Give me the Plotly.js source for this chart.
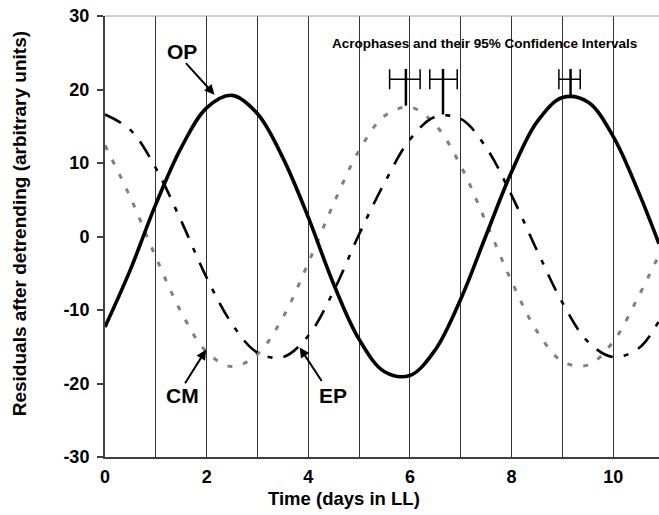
<!DOCTYPE html>
<html>
<head>
<meta charset="utf-8">
<script src="https://cdn.plot.ly/plotly-3.0.1.min.js"></script>
<style>html,body{margin:0;padding:0;background:#fff;}#chart{width:659px;height:515px;}</style>
</head>
<body>
<div id="chart"></div>
<script>
// Time (days in LL)
var days = [0,0.5,1,1.5,2,2.5,3,3.5,4,4.5,5,5.5,6,6.5,7,7.5,8,8.5,9,9.5,10,10.5,10.9];
// Residuals after detrending (arbitrary units)
var op = [-12.3,-4.5,4.4,12.1,17.5,19.2,16.7,10.7,2.6,-6.5,-14.0,-18.4,-18.9,-15.4,-8.5,0.2,8.8,15.6,18.9,18.3,13.6,6.0,-1.0];
var cm = [16.6,14.5,9.3,2.1,-5.6,-11.9,-15.8,-16.4,-13.5,-7.4,0.3,7.3,13.2,16.3,16.0,12.1,5.6,-1.9,-9.0,-14.3,-16.4,-15.2,-11.5];
var ep = [12.4,5.3,-2.8,-10.3,-15.7,-17.7,-16.0,-11.0,-3.6,4.5,11.7,16.4,17.6,15.2,9.6,1.9,-6.1,-12.9,-17.0,-17.5,-14.3,-8.1,-2.5];

// axis ticks
var xTickVals = [0,1,2,3,4,5,6,7,8,9,10];
var xTickText = ['0','','2','','4','','6','','8','','10'];
var yTickVals = [-30,-20,-10,0,10,20,30];
var yTickText = ['-30','-20','-10','0','10','20','30'];

// Acrophases and their 95% confidence intervals
var acroNames = ["EP", "CM", "OP"];
var acroTime = [5.92, 6.65, 9.16];
var acroLow = [5.60, 6.39, 8.93];
var acroHigh = [6.20, 6.93, 9.35];
var acroPeak = [17.8, 16.6, 19.0];
var ciLevel = 21.4;
var stemTop = 22.8;

var traces = [];
traces.push({x: days, y: ep, type: 'scatter', mode: 'lines', name: 'EP',
  line: {color: '#808080', width: 3, dash: '5px,11px', shape: 'spline'}, hoverinfo: 'skip'});
traces.push({x: days, y: cm, type: 'scatter', mode: 'lines', name: 'CM',
  line: {color: '#000000', width: 2.6, dash: '18px,11px,5px,11px', shape: 'spline'}, hoverinfo: 'skip'});
traces.push({x: days, y: op, type: 'scatter', mode: 'lines', name: 'OP',
  line: {color: '#000000', width: 3.6, shape: 'spline'}, hoverinfo: 'skip'});

// stems
for (var i = 0; i < acroTime.length; i++) {
  traces.push({x: [acroTime[i], acroTime[i]], y: [stemTop, acroPeak[i]], type: 'scatter', mode: 'lines',
    line: {color: '#000', width: 2.5}, hoverinfo: 'skip'});
}
// CI bars
traces.push({
  x: acroTime, y: acroTime.map(function(){return ciLevel;}), type: 'scatter', mode: 'markers',
  marker: {size: 1, color: 'rgba(0,0,0,0)'},
  error_x: {type: 'data', symmetric: false,
    array: acroHigh.map(function(h, i){return h - acroTime[i];}),
    arrayminus: acroLow.map(function(l, i){return acroTime[i] - l;}),
    color: '#000', thickness: 1.5, width: 10},
  hoverinfo: 'skip'
});

var FF = 'Liberation Sans, Arial, sans-serif';
var labelFont = {family: FF, size: 21, color: '#000', weight: 'bold'};

var layout = {
  width: 659, height: 515,
  margin: {l: 105, r: 0, t: 16, b: 58, pad: 0},
  paper_bgcolor: '#fff', plot_bgcolor: '#fff',
  showlegend: false,
  font: {family: FF, color: '#000'},
  xaxis: {
    range: [0, 10.9], tickvals: xTickVals, ticktext: xTickText,
    showgrid: true, gridcolor: '#333', gridwidth: 1, zeroline: false,
    showline: true, linecolor: '#404040', linewidth: 2,
    ticks: '', ticklabelstandoff: 2,
    tickfont: {family: FF, size: 18, color: '#000', weight: 'bold'}
  },
  yaxis: {
    range: [-30, 30], tickvals: yTickVals, ticktext: yTickText, showgrid: false, zeroline: false,
    showline: true, linecolor: '#404040', linewidth: 2,
    ticks: 'outside', ticklen: 6, tickcolor: '#404040', tickwidth: 2, ticklabelstandoff: 4,
    tickfont: {family: FF, size: 18, color: '#000', weight: 'bold'}
  },
  shapes: [
    {type: 'line', xref: 'paper', yref: 'paper', x0: 0, x1: 1, y0: 1, y1: 1, line: {color: '#999', width: 1}}
  ],
  annotations: [
    {xref: 'paper', yref: 'paper', x: 0.431, y: -0.095, text: 'Time (days in LL)', showarrow: false,
      xanchor: 'center', yanchor: 'middle', font: {family: FF, size: 18.5, color: '#000', weight: 'bold'}},
    {xref: 'paper', yref: 'paper', x: -0.155, y: 0.528, text: 'Residuals after detrending (arbitrary units)', showarrow: false,
      textangle: -90, xanchor: 'center', yanchor: 'middle', font: {family: FF, size: 19, color: '#000', weight: 'bold'}},
    {x: 7.47, y: 26.3, text: 'Acrophases and their 95% Confidence Intervals', showarrow: false,
      xanchor: 'center', yanchor: 'middle', font: {family: FF, size: 13.5, color: '#000', weight: 'bold'}},
    {x: 1.52, y: 25.2, text: 'OP', showarrow: false, xanchor: 'center', yanchor: 'middle', font: labelFont},
    {x: 1.52, y: -21.6, text: 'CM', showarrow: false, xanchor: 'center', yanchor: 'middle', font: labelFont},
    {x: 4.49, y: -21.6, text: 'EP', showarrow: false, xanchor: 'center', yanchor: 'middle', font: labelFont},
    {x: 2.155, y: 19.3, text: '', showarrow: true, ax: -30, ay: -33, arrowhead: 2, arrowsize: 1, arrowwidth: 2, arrowcolor: '#000', standoff: 0},
    {x: 1.99, y: -15.4, text: '', showarrow: true, ax: -22, ay: 35, arrowhead: 2, arrowsize: 1, arrowwidth: 2, arrowcolor: '#000', standoff: 0},
    {x: 3.83, y: -15.1, text: '', showarrow: true, ax: 23, ay: 35, arrowhead: 2, arrowsize: 1, arrowwidth: 2, arrowcolor: '#000', standoff: 0}
  ]
};

Plotly.newPlot('chart', traces, layout, {staticPlot: true, displayModeBar: false});
</script>
</body>
</html>
